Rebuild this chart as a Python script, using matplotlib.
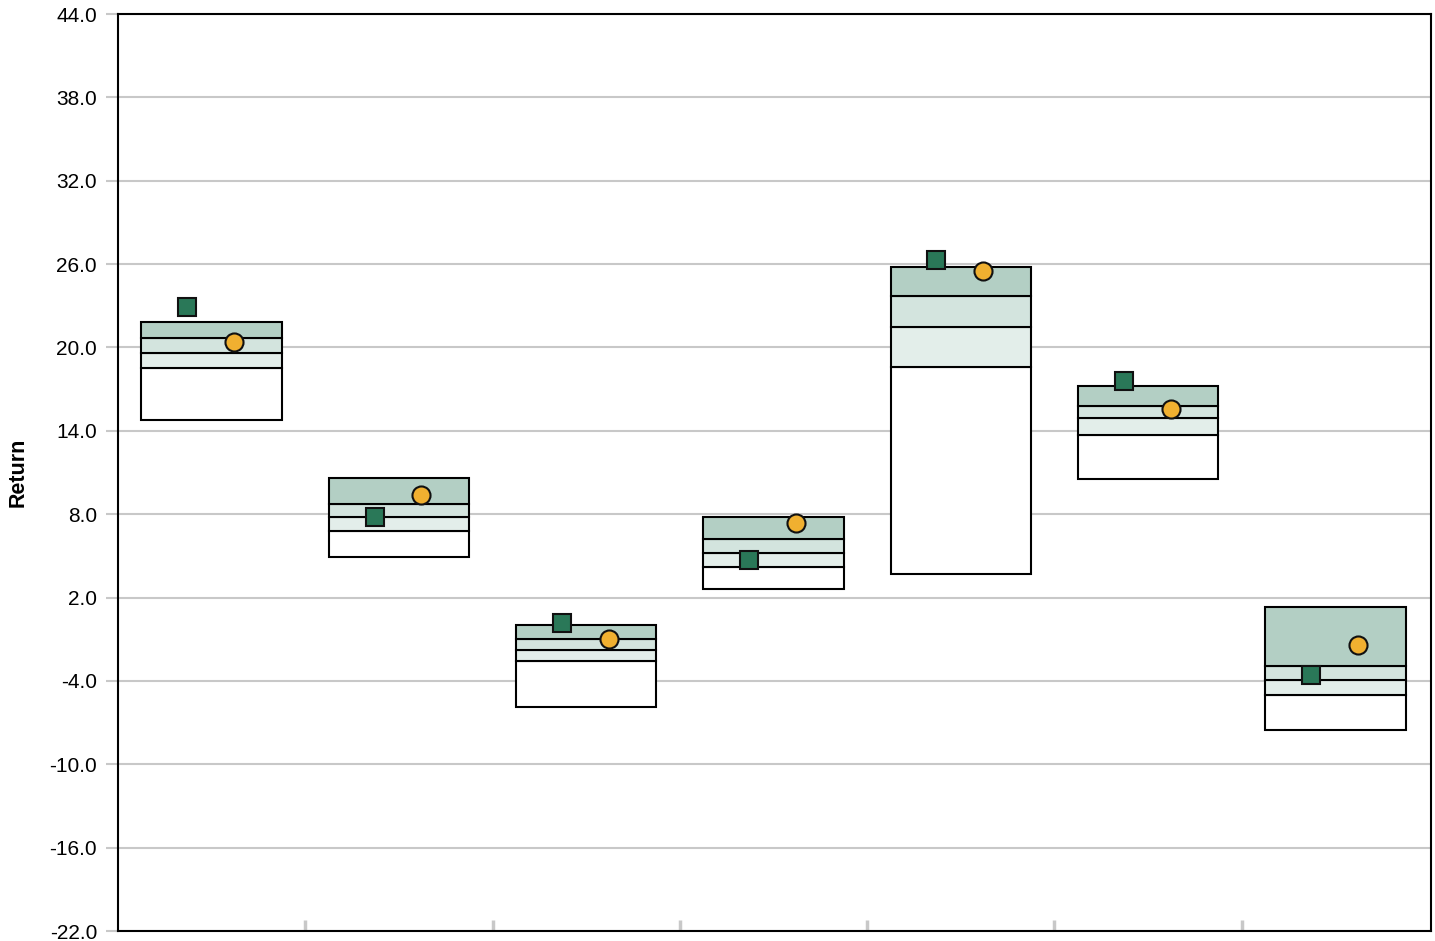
import matplotlib
matplotlib.use("Agg")
import matplotlib.pyplot as plt
import numpy as np

# percentile bands per category (bottom -> top)
p05 = [14.8, 4.9, -5.9, 2.6, 3.7, 10.5, -7.5]
p25 = [18.5, 6.8, -2.6, 4.2, 18.6, 13.7, -5.0]
p50 = [19.6, 7.8, -1.8, 5.2, 21.5, 14.9, -3.9]
p75 = [20.7, 8.7, -1.0, 6.2, 23.7, 15.8, -2.9]
p95 = [21.8, 10.6, 0.0, 7.8, 25.8, 17.2, 1.3]

square_vals = [22.9, 7.8, 0.2, 4.7, 26.3, 17.6, -3.6]
circle_vals = [20.4, 9.4, -1.0, 7.4, 25.5, 15.6, -1.4]

yticks = [-22.0, -16.0, -10.0, -4.0, 2.0, 8.0, 14.0, 20.0, 26.0, 32.0, 38.0, 44.0]

band_colors = ["#ffffff", "#e3eeea", "#d3e4de", "#b3cfc4"]

plt.rcParams["font.family"] = ["Liberation Sans", "DejaVu Sans"]

fig = plt.figure(figsize=(14.35, 9.41), dpi=100)
ax = fig.add_axes([0.0822, 0.0106, 0.9150, 0.9745])

x = np.arange(len(p05))
width = 0.75
levels = [p05, p25, p50, p75, p95]
for i in range(4):
    lo = np.array(levels[i])
    hi = np.array(levels[i + 1])
    ax.bar(x, hi - lo, bottom=lo, width=width, color=band_colors[i],
           edgecolor="black", linewidth=1.5, zorder=3)

ax.plot(x - 0.13, square_vals, "s", markersize=13, markerfacecolor="#2a7858",
        markeredgecolor="#111111", markeredgewidth=1.5, linestyle="none", zorder=4)
ax.plot(x + 0.12, circle_vals, "o", markersize=13, markerfacecolor="#f0b030",
        markeredgecolor="#111111", markeredgewidth=1.5, linestyle="none", zorder=4)

ax.set_xlim(-0.5, len(p05) - 0.49)
ax.set_ylim(yticks[0], yticks[-1])
ax.set_yticks(yticks)
ax.set_yticklabels([f"{v:.1f}" for v in yticks], fontsize=15)
ax.yaxis.grid(True, color="#c8c8c8", linewidth=1.5, zorder=0)
ax.tick_params(axis="y", length=8.5, width=1.5, color="#c8c8c8", pad=6.5)

ax.set_xticks(np.arange(len(p05) - 1) + 0.5)
ax.set_xticklabels([])
ax.tick_params(axis="x", direction="in", length=8, width=2.5, color="#c8c8c8")

for s in ax.spines.values():
    s.set_color("black")
    s.set_linewidth(1.5)

ax.set_ylabel("Return", fontsize=15.5, fontweight="bold")
ax.yaxis.set_label_coords(-0.068, 0.5)

fig.savefig("out.png", dpi=100)
